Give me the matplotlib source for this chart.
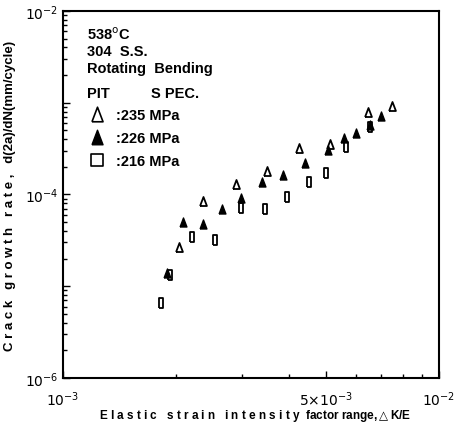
import numpy as np
import matplotlib
matplotlib.use("Agg")
import matplotlib.pyplot as plt
from matplotlib.ticker import FixedLocator, LogLocator, NullFormatter, FixedFormatter

plt.rcParams['font.family'] = ['Liberation Sans', 'DejaVu Sans']

# 235 MPa (open triangles)
x_235 = [2.03e-3, 2.35e-3, 2.88e-3, 3.48e-3, 4.25e-3, 5.14e-3, 6.46e-3, 7.50e-3]
y_235 = [2.66e-5, 8.56e-5, 1.29e-4, 1.79e-4, 3.19e-4, 3.55e-4, 7.93e-4, 9.29e-4]

# 226 MPa (filled triangles)
x_226 = [1.89e-3, 2.09e-3, 2.36e-3, 2.64e-3, 2.98e-3, 3.39e-3, 3.85e-3,
         4.41e-3, 5.06e-3, 5.58e-3, 6.03e-3, 6.55e-3, 7.02e-3]
y_226 = [1.39e-5, 4.98e-5, 4.77e-5, 6.95e-5, 9.05e-5, 1.38e-4, 1.64e-4,
         2.20e-4, 3.07e-4, 4.10e-4, 4.68e-4, 5.79e-4, 7.22e-4]

# 216 MPa (open squares)
x_216 = [1.82e-3, 1.93e-3, 2.20e-3, 2.53e-3, 2.97e-3, 3.45e-3, 3.95e-3,
         4.51e-3, 5.00e-3, 5.66e-3, 6.55e-3]
y_216 = [6.57e-6, 1.34e-5, 3.47e-5, 3.19e-5, 7.13e-5, 6.95e-5, 9.46e-5,
         1.36e-4, 1.71e-4, 3.27e-4, 5.44e-4]

x_ticks = [1e-3, 5e-3, 1e-2]
x_ticklabels = [r'$10^{-3}$', r'$5{\times}10^{-3}$', r'$10^{-2}$']
y_ticks = [1e-6, 1e-4, 1e-2]
y_ticklabels = [r'$10^{-6}$', r'$10^{-4}$', r'$10^{-2}$']

tri = [(-0.38, -0.5), (0.38, -0.5), (0, 0.5), (-0.38, -0.5)]
rect = [(-0.26, -0.5), (0.26, -0.5), (0.26, 0.5), (-0.26, 0.5), (-0.26, -0.5)]

fig = plt.figure(figsize=(4.59, 4.39), dpi=100)
ax = fig.add_axes([0.1373, 0.1367, 0.8191, 0.836])

ax.scatter(x_235, y_235, marker=tri, s=42, facecolors='white', edgecolors='black', linewidths=1.3, zorder=3)
ax.scatter(x_226, y_226, marker=tri, s=42, facecolors='black', edgecolors='black', linewidths=1.0, zorder=3)
ax.scatter(x_216, y_216, marker=rect, s=45, facecolors='white', edgecolors='black', linewidths=1.3, zorder=2)

ax.set_xscale('log')
ax.set_yscale('log')
ax.set_xlim(1e-3, 1e-2)
ax.set_ylim(1e-6, 1e-2)

ax.xaxis.set_major_locator(FixedLocator(x_ticks))
ax.xaxis.set_major_formatter(FixedFormatter(x_ticklabels))
ax.xaxis.set_minor_locator(LogLocator(base=10, subs=np.arange(2, 10)))
ax.xaxis.set_minor_formatter(NullFormatter())
ax.yaxis.set_major_locator(FixedLocator([1e-6, 1e-5, 1e-4, 1e-3, 1e-2]))
ax.yaxis.set_major_formatter(FixedFormatter([y_ticklabels[0], '', y_ticklabels[1], '', y_ticklabels[2]]))
ax.yaxis.set_minor_locator(LogLocator(base=10, subs=np.arange(2, 10)))
ax.yaxis.set_minor_formatter(NullFormatter())

ax.tick_params(which='both', direction='in', labelsize=10, width=1)
ax.tick_params(which='major', length=5)
ax.tick_params(which='minor', length=3)
ax.tick_params(axis='x', pad=8)
for lab in ax.get_xticklabels() + ax.get_yticklabels():
    lab.set_fontweight('bold')
for s in ax.spines.values():
    s.set_linewidth(1.5)

fig.text(0.555, 0.052, 'E l a s t i c   s t r a i n   i n t e n s i t y  factor range,$\\triangle$K/E',
         fontsize=8.5, fontweight='bold', ha='center', va='center')
ax.set_ylabel('C r a c k   g r o w t h   r a t e ,   d(2a)/dN(mm/cycle)',
              fontsize=9.5, fontweight='bold', labelpad=6)

tx = 0.065
fs = 10.5
ax.text(tx, 0.925, '538$^{\\rm o}$C', transform=ax.transAxes, fontsize=fs, fontweight='bold')
ax.text(tx, 0.88, '304  S.S.', transform=ax.transAxes, fontsize=fs, fontweight='bold')
ax.text(tx, 0.833, 'Rotating  Bending', transform=ax.transAxes, fontsize=fs, fontweight='bold')
ax.text(tx, 0.765, 'PIT          S PEC.', transform=ax.transAxes, fontsize=fs, fontweight='bold')
for yy, lab in [(0.705, ':235 MPa'), (0.643, ':226 MPa'), (0.58, ':216 MPa')]:
    ax.text(tx + 0.075, yy, lab, transform=ax.transAxes, fontsize=fs, fontweight='bold')
ax.scatter([0.09], [0.718], marker=tri, s=110, facecolors='white', edgecolors='black', linewidths=1.2, transform=ax.transAxes)
ax.scatter([0.09], [0.656], marker=tri, s=110, facecolors='black', edgecolors='black', transform=ax.transAxes)
ax.scatter([0.09], [0.593], marker='s', s=70, facecolors='white', edgecolors='black', linewidths=1.2, transform=ax.transAxes)

fig.savefig('out.png', dpi=100)
